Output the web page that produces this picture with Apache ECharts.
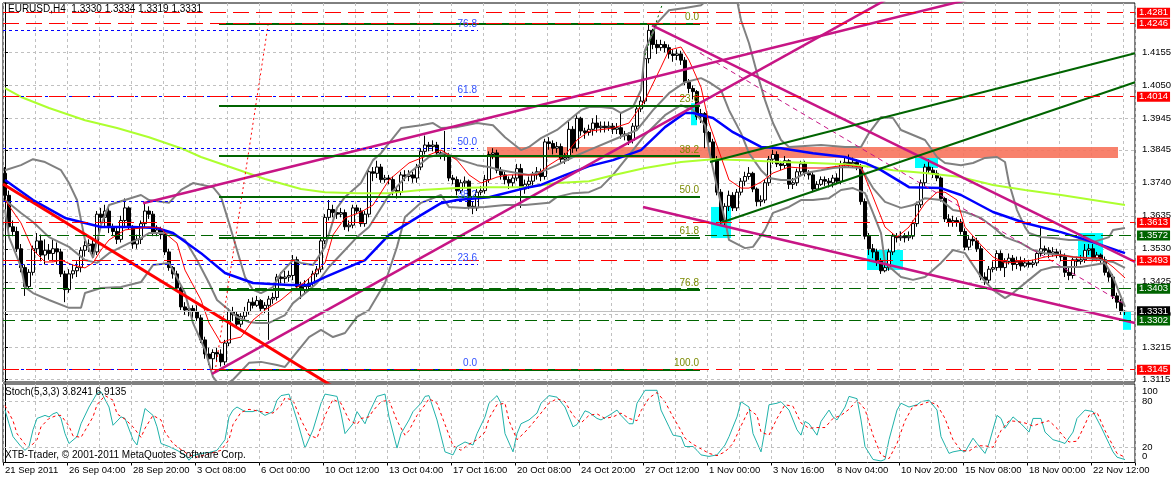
<!DOCTYPE html>
<html>
<head>
<meta charset="utf-8">
<title>EURUSD,H4</title>
<script src="https://cdn.jsdelivr.net/npm/echarts@6/dist/echarts.min.js"></script>
<style>
html, body { margin: 0; padding: 0; background: #fff; }
#main { width: 1173px; height: 480px; }
</style>
</head>
<body>
<div id="main"></div>
<script>
// x labels every 16 bars (H4)
var timeLabels = ['21 Sep 2011', '26 Sep 04:00', '28 Sep 20:00', '3 Oct 08:00', '6 Oct 00:00', '10 Oct 12:00',
    '13 Oct 04:00', '17 Oct 16:00', '20 Oct 08:00', '24 Oct 20:00', '27 Oct 12:00', '1 Nov 00:00',
    '3 Nov 16:00', '8 Nov 04:00', '10 Nov 20:00', '15 Nov 08:00', '18 Nov 00:00', '22 Nov 12:00'];

var priceTicks = [1.4155, 1.4050, 1.3945, 1.3845, 1.3740, 1.3635, 1.3530, 1.3425, 1.3320, 1.3215, 1.3115];
var stochTicks = [0, 20, 80, 100];

// candles: [open, close, low, high]
var ohlc = [
[1.3770,1.3700,1.3680,1.3790],[1.3700,1.3600,1.3585,1.3715],[1.3600,1.3585,1.3570,1.3620],[1.3585,1.3530,1.3520,1.3600],
[1.3530,1.3470,1.3455,1.3545],[1.3470,1.3410,1.3380,1.3480],[1.3410,1.3455,1.3400,1.3465],[1.3455,1.3530,1.3445,1.3540],
[1.3530,1.3555,1.3515,1.3580],[1.3555,1.3510,1.3490,1.3575],[1.3510,1.3525,1.3480,1.3560],[1.3525,1.3515,1.3495,1.3545],
[1.3515,1.3530,1.3490,1.3560],[1.3530,1.3520,1.3480,1.3550],[1.3520,1.3450,1.3440,1.3530],[1.3450,1.3400,1.3360,1.3460],
[1.3400,1.3450,1.3390,1.3465],[1.3450,1.3460,1.3435,1.3480],[1.3460,1.3470,1.3440,1.3490],[1.3470,1.3525,1.3455,1.3535],
[1.3525,1.3540,1.3505,1.3555],[1.3540,1.3545,1.3520,1.3560],[1.3545,1.3520,1.3500,1.3560],[1.3520,1.3640,1.3510,1.3650],
[1.3640,1.3630,1.3610,1.3660],[1.3630,1.3650,1.3600,1.3670],[1.3650,1.3600,1.3580,1.3660],[1.3600,1.3585,1.3570,1.3610],
[1.3585,1.3560,1.3545,1.3600],[1.3560,1.3620,1.3550,1.3635],[1.3620,1.3660,1.3600,1.3690],[1.3660,1.3600,1.3590,1.3665],
[1.3600,1.3545,1.3530,1.3605],[1.3545,1.3560,1.3530,1.3575],[1.3560,1.3610,1.3545,1.3620],[1.3610,1.3650,1.3600,1.3675],
[1.3650,1.3640,1.3625,1.3665],[1.3640,1.3580,1.3570,1.3650],[1.3580,1.3590,1.3570,1.3605],[1.3590,1.3575,1.3560,1.3600],
[1.3575,1.3520,1.3510,1.3585],[1.3520,1.3470,1.3460,1.3530],[1.3470,1.3450,1.3435,1.3475],[1.3450,1.3405,1.3395,1.3460],
[1.3405,1.3345,1.3335,1.3410],[1.3345,1.3335,1.3320,1.3360],[1.3335,1.3340,1.3315,1.3355],[1.3340,1.3330,1.3310,1.3350],
[1.3330,1.3310,1.3300,1.3350],[1.3310,1.3240,1.3230,1.3320],[1.3240,1.3195,1.3180,1.3250],[1.3195,1.3180,1.3160,1.3215],
[1.3180,1.3200,1.3145,1.3210],[1.3200,1.3195,1.3170,1.3215],[1.3195,1.3170,1.3155,1.3210],[1.3170,1.3230,1.3160,1.3240],
[1.3230,1.3330,1.3220,1.3340],[1.3330,1.3320,1.3300,1.3345],[1.3320,1.3290,1.3280,1.3330],[1.3290,1.3315,1.3280,1.3325],
[1.3315,1.3330,1.3305,1.3345],[1.3330,1.3360,1.3320,1.3370],[1.3360,1.3350,1.3340,1.3375],[1.3350,1.3365,1.3345,1.3380],
[1.3365,1.3340,1.3330,1.3370],[1.3340,1.3350,1.3325,1.3360],[1.3350,1.3370,1.3240,1.3380],[1.3370,1.3375,1.3355,1.3390],
[1.3375,1.3440,1.3365,1.3450],[1.3440,1.3435,1.3420,1.3455],[1.3435,1.3440,1.3420,1.3460],[1.3440,1.3445,1.3425,1.3460],
[1.3445,1.3495,1.3430,1.3510],[1.3495,1.3410,1.3400,1.3505],[1.3410,1.3400,1.3370,1.3425],[1.3400,1.3410,1.3385,1.3430],
[1.3410,1.3420,1.3395,1.3435],[1.3420,1.3450,1.3410,1.3460],[1.3450,1.3465,1.3440,1.3475],[1.3465,1.3555,1.3455,1.3565],
[1.3555,1.3630,1.3545,1.3640],[1.3630,1.3655,1.3620,1.3685],[1.3655,1.3645,1.3630,1.3670],[1.3645,1.3640,1.3625,1.3660],
[1.3640,1.3645,1.3630,1.3660],[1.3645,1.3600,1.3590,1.3655],[1.3600,1.3605,1.3585,1.3620],[1.3605,1.3660,1.3595,1.3670],
[1.3660,1.3650,1.3640,1.3670],[1.3650,1.3610,1.3600,1.3660],[1.3610,1.3640,1.3600,1.3650],[1.3640,1.3775,1.3630,1.3785],
[1.3775,1.3770,1.3745,1.3790],[1.3770,1.3790,1.3755,1.3810],[1.3790,1.3750,1.3740,1.3800],[1.3750,1.3755,1.3740,1.3765],
[1.3755,1.3750,1.3735,1.3765],[1.3750,1.3715,1.3700,1.3760],[1.3715,1.3710,1.3690,1.3725],[1.3710,1.3765,1.3700,1.3775],
[1.3765,1.3760,1.3745,1.3780],[1.3760,1.3765,1.3745,1.3780],[1.3765,1.3755,1.3740,1.3775],[1.3755,1.3790,1.3740,1.3800],
[1.3790,1.3840,1.3780,1.3850],[1.3840,1.3860,1.3830,1.3890],[1.3860,1.3855,1.3840,1.3870],[1.3855,1.3860,1.3840,1.3875],
[1.3860,1.3835,1.3825,1.3870],[1.3835,1.3830,1.3815,1.3840],[1.3830,1.3825,1.3810,1.3905],[1.3825,1.3755,1.3745,1.3835],
[1.3755,1.3750,1.3735,1.3765],[1.3750,1.3715,1.3700,1.3760],[1.3715,1.3740,1.3705,1.3750],[1.3740,1.3745,1.3725,1.3760],
[1.3745,1.3665,1.3655,1.3750],[1.3665,1.3660,1.3640,1.3680],[1.3660,1.3710,1.3650,1.3720],[1.3710,1.3715,1.3700,1.3730],
[1.3715,1.3750,1.3705,1.3765],[1.3750,1.3830,1.3740,1.3840],[1.3830,1.3835,1.3815,1.3850],[1.3835,1.3780,1.3770,1.3845],
[1.3780,1.3765,1.3750,1.3790],[1.3765,1.3750,1.3735,1.3775],[1.3750,1.3740,1.3720,1.3760],[1.3740,1.3755,1.3725,1.3765],
[1.3755,1.3785,1.3745,1.3800],[1.3785,1.3720,1.3660,1.3800],[1.3720,1.3735,1.3705,1.3750],[1.3735,1.3745,1.3720,1.3760],
[1.3745,1.3765,1.3730,1.3775],[1.3765,1.3775,1.3750,1.3790],[1.3775,1.3760,1.3745,1.3785],[1.3760,1.3870,1.3750,1.3880],
[1.3870,1.3865,1.3845,1.3885],[1.3865,1.3850,1.3830,1.3875],[1.3850,1.3855,1.3835,1.3870],[1.3855,1.3815,1.3800,1.3865],
[1.3815,1.3820,1.3800,1.3835],[1.3820,1.3910,1.3810,1.3935],[1.3910,1.3850,1.3835,1.3920],[1.3850,1.3945,1.3840,1.3955],
[1.3945,1.3905,1.3890,1.3950],[1.3905,1.3900,1.3880,1.3915],[1.3900,1.3910,1.3890,1.3925],[1.3910,1.3930,1.3890,1.3945],
[1.3930,1.3915,1.3900,1.3955],[1.3915,1.3920,1.3900,1.3935],[1.3920,1.3915,1.3900,1.3935],[1.3915,1.3920,1.3905,1.3935],
[1.3920,1.3910,1.3895,1.3930],[1.3910,1.3915,1.3895,1.3930],[1.3915,1.3895,1.3880,1.3965],[1.3895,1.3890,1.3875,1.3905],
[1.3890,1.3875,1.3860,1.3900],[1.3875,1.3920,1.3865,1.3930],[1.3920,1.3975,1.3910,1.3985],[1.3975,1.4000,1.3965,1.4015],
[1.4000,1.4135,1.3990,1.4145],[1.4135,1.4225,1.4120,1.4246],[1.4225,1.4180,1.4165,1.4230],[1.4180,1.4170,1.4150,1.4195],
[1.4170,1.4180,1.4160,1.4195],[1.4180,1.4170,1.4155,1.4190],[1.4170,1.4150,1.4135,1.4180],[1.4150,1.4145,1.4125,1.4165],
[1.4145,1.4150,1.4130,1.4165],[1.4150,1.4130,1.4115,1.4160],[1.4130,1.4060,1.4050,1.4140],[1.4060,1.4040,1.4025,1.4070],
[1.4040,1.4030,1.4005,1.4050],[1.4030,1.3950,1.3940,1.4035],[1.3950,1.3960,1.3930,1.3975],[1.3960,1.3900,1.3850,1.3965],
[1.3900,1.3870,1.3855,1.3905],[1.3870,1.3815,1.3805,1.3880],[1.3815,1.3710,1.3700,1.3825],[1.3710,1.3620,1.3610,1.3720],
[1.3620,1.3665,1.3600,1.3675],[1.3665,1.3700,1.3650,1.3715],[1.3700,1.3660,1.3650,1.3710],[1.3660,1.3710,1.3650,1.3720],
[1.3710,1.3745,1.3700,1.3755],[1.3745,1.3760,1.3730,1.3775],[1.3760,1.3770,1.3750,1.3790],[1.3770,1.3720,1.3710,1.3775],
[1.3720,1.3680,1.3665,1.3725],[1.3680,1.3685,1.3665,1.3700],[1.3685,1.3740,1.3675,1.3750],[1.3740,1.3815,1.3730,1.3825],
[1.3815,1.3830,1.3800,1.3845],[1.3830,1.3800,1.3790,1.3840],[1.3800,1.3795,1.3780,1.3810],[1.3795,1.3810,1.3785,1.3825],
[1.3810,1.3735,1.3720,1.3815],[1.3735,1.3740,1.3720,1.3755],[1.3740,1.3775,1.3730,1.3785],[1.3775,1.3800,1.3765,1.3810],
[1.3800,1.3770,1.3760,1.3810],[1.3770,1.3765,1.3750,1.3780],[1.3765,1.3720,1.3710,1.3775],[1.3720,1.3735,1.3715,1.3745],
[1.3735,1.3750,1.3730,1.3760],[1.3750,1.3745,1.3730,1.3760],[1.3745,1.3740,1.3725,1.3755],[1.3740,1.3755,1.3725,1.3765],
[1.3755,1.3745,1.3735,1.3770],[1.3745,1.3800,1.3735,1.3810],[1.3800,1.3805,1.3790,1.3825],[1.3805,1.3800,1.3790,1.3830],
[1.3800,1.3805,1.3790,1.3820],[1.3805,1.3795,1.3780,1.3815],[1.3795,1.3680,1.3670,1.3800],[1.3680,1.3570,1.3560,1.3690],
[1.3570,1.3530,1.3510,1.3580],[1.3530,1.3520,1.3500,1.3545],[1.3520,1.3490,1.3475,1.3530],[1.3490,1.3460,1.3450,1.3500],
[1.3460,1.3470,1.3455,1.3490],[1.3470,1.3520,1.3460,1.3530],[1.3520,1.3570,1.3510,1.3580],[1.3570,1.3565,1.3550,1.3580],
[1.3565,1.3570,1.3555,1.3585],[1.3570,1.3565,1.3550,1.3580],[1.3565,1.3570,1.3555,1.3585],[1.3570,1.3610,1.3560,1.3620],
[1.3610,1.3670,1.3600,1.3680],[1.3670,1.3740,1.3660,1.3750],[1.3740,1.3790,1.3730,1.3800],[1.3790,1.3780,1.3770,1.3815],
[1.3780,1.3770,1.3755,1.3790],[1.3770,1.3755,1.3745,1.3780],[1.3755,1.3690,1.3680,1.3760],[1.3690,1.3625,1.3615,1.3695],
[1.3625,1.3615,1.3600,1.3640],[1.3615,1.3620,1.3600,1.3635],[1.3620,1.3615,1.3600,1.3630],[1.3615,1.3585,1.3575,1.3625],
[1.3585,1.3535,1.3525,1.3595],[1.3535,1.3560,1.3525,1.3570],[1.3560,1.3555,1.3540,1.3570],[1.3555,1.3530,1.3520,1.3565],
[1.3530,1.3440,1.3430,1.3540],[1.3440,1.3430,1.3415,1.3455],[1.3430,1.3465,1.3420,1.3475],[1.3465,1.3470,1.3455,1.3490],
[1.3470,1.3515,1.3460,1.3525],[1.3515,1.3470,1.3460,1.3525],[1.3470,1.3490,1.3440,1.3500],[1.3490,1.3500,1.3480,1.3515],
[1.3500,1.3480,1.3460,1.3510],[1.3480,1.3490,1.3465,1.3505],[1.3490,1.3475,1.3460,1.3505],[1.3475,1.3485,1.3470,1.3500],
[1.3485,1.3480,1.3470,1.3495],[1.3480,1.3485,1.3470,1.3495],[1.3485,1.3515,1.3475,1.3525],[1.3515,1.3530,1.3505,1.3600],
[1.3530,1.3525,1.3510,1.3540],[1.3525,1.3515,1.3500,1.3535],[1.3515,1.3520,1.3505,1.3535],[1.3520,1.3510,1.3500,1.3530],
[1.3510,1.3505,1.3490,1.3525],[1.3505,1.3455,1.3440,1.3515],[1.3455,1.3445,1.3430,1.3470],[1.3445,1.3495,1.3435,1.3505],
[1.3495,1.3490,1.3475,1.3505],[1.3490,1.3495,1.3480,1.3510],[1.3495,1.3525,1.3485,1.3545],[1.3525,1.3530,1.3510,1.3545],
[1.3530,1.3500,1.3490,1.3545],[1.3500,1.3510,1.3490,1.3520],[1.3510,1.3495,1.3485,1.3515],[1.3495,1.3455,1.3445,1.3505],
[1.3455,1.3440,1.3425,1.3465],[1.3440,1.3380,1.3370,1.3450],[1.3380,1.3360,1.3340,1.3390],[1.3360,1.3330,1.3320,1.3370],
[1.3330,1.3331,1.3319,1.3334]
];

// indicator lines: [bar, value]
var maFast = [[0,1.3685],[4,1.3612],[7,1.3526],[10,1.3488],[12,1.3488],[14,1.3494],[17,1.3478],[20,1.3469],[22,1.3485],
[24,1.3526],[26,1.3558],[30,1.3590],[34,1.3596],[36,1.3599],[39,1.3596],[40,1.3580],[43,1.3548],[45,1.3462],[49,1.3367],
[51,1.3294],[54,1.3230],[56,1.3240],[59,1.3249],[62,1.3303],[65,1.3335],[69,1.3367],[72,1.3399],[75,1.3424],[80,1.3485],
[82,1.3574],[85,1.3628],[89,1.3647],[92,1.3669],[96,1.3749],[101,1.3803],[109,1.3844],[113,1.3812],[116,1.3765],
[119,1.3739],[123,1.3758],[126,1.3765],[130,1.3765],[133,1.3765],[136,1.3796],[140,1.3828],[143,1.3876],[146,1.3904],
[152,1.3914],[156,1.3930],[160,1.4003],[164,1.4108],[166,1.4162],[169,1.4172],[171,1.4130],[174,1.4044],[176,1.3930],
[179,1.3822],[181,1.3749],[184,1.3723],[186,1.3723],[189,1.3742],[192,1.3771],[196,1.3790],[199,1.3787],[202,1.3787],
[205,1.3787],[210,1.3796],[214,1.3790],[217,1.3695],[220,1.3599],[223,1.3567],[226,1.3599],[230,1.3675],[233,1.3710],
[235,1.3710],[238,1.3685],[240,1.3599],[244,1.3542],[247,1.3504],[250,1.3485],[254,1.3488],[257,1.3494],[260,1.3504],
[264,1.3510],[267,1.3504],[270,1.3501],[274,1.3501],[277,1.3472],[280,1.3437]];

var maMid = [[0,1.3749],[7,1.3685],[15,1.3628],[24,1.3599],[32,1.3599],[38,1.3596],[42,1.3580],[49,1.3516],[55,1.3453],
[62,1.3421],[71,1.3415],[76,1.3415],[80,1.3440],[90,1.3494],[96,1.3574],[104,1.3637],[109,1.3675],[113,1.3685],
[121,1.3694],[130,1.3723],[134,1.3733],[140,1.3764],[146,1.3793],[152,1.3812],[159,1.3844],[165,1.3917],[170,1.3962],
[172,1.3962],[177,1.3946],[182,1.3901],[189,1.3854],[194,1.3850],[202,1.3834],[210,1.3822],[215,1.3803],[219,1.3780],
[226,1.3726],[234,1.3723],[239,1.3701],[247,1.3647],[255,1.3612],[264,1.3583],[272,1.3551],[280,1.3516]];

var ma200 = [[0,1.4041],[4,1.4013],[11,1.3978],[20,1.3939],[28,1.3914],[36,1.3885],[44,1.3850],[49,1.3822],[57,1.3787],
[65,1.3752],[74,1.3720],[80,1.3710],[88,1.3707],[96,1.3707],[104,1.3717],[113,1.3723],[121,1.3726],[130,1.3726],
[138,1.3739],[146,1.3745],[152,1.3764],[160,1.3787],[169,1.3806],[177,1.3815],[185,1.3812],[194,1.3806],[202,1.3803],
[210,1.3799],[217,1.3790],[222,1.3780],[230,1.3771],[239,1.3758],[247,1.3733],[255,1.3717],[264,1.3701],[272,1.3685],
[280,1.3669]];

var bbUpper = [[0,1.3780],[4,1.3796],[7,1.3815],[10,1.3806],[14,1.3780],[16,1.3739],[18,1.3685],[19,1.3621],[20,1.3558],
[22,1.3501],[24,1.3605],[26,1.3669],[30,1.3685],[34,1.3701],[36,1.3685],[41,1.3676],[44,1.3717],[47,1.3739],[52,1.3726],
[54,1.3695],[56,1.3612],[58,1.3526],[60,1.3440],[62,1.3399],[64,1.3389],[67,1.3408],[69,1.3453],[72,1.3494],[74,1.3485],
[77,1.3478],[80,1.3536],[83,1.3660],[85,1.3695],[89,1.3739],[92,1.3812],[94,1.3834],[99,1.3914],[104,1.3923],
[107,1.3930],[109,1.3914],[113,1.3917],[118,1.3930],[122,1.3923],[125,1.3885],[129,1.3844],[131,1.3854],[134,1.3882],
[138,1.3908],[141,1.3939],[144,1.3971],[146,1.3981],[149,1.3981],[152,1.3977],[154,1.3962],[157,1.3981],[159,1.4035],
[160,1.4162],[163,1.4248],[166,1.4289],[170,1.4296],[174,1.4305],[177,1.4337],[181,1.4346],[183,1.4321],[184,1.4257],
[186,1.4184],[188,1.4089],[190,1.4003],[192,1.3930],[194,1.3876],[196,1.3854],[204,1.3860],[210,1.3854],[214,1.3854],
[216,1.3898],[219,1.3949],[222,1.3946],[224,1.3908],[230,1.3876],[233,1.3822],[235,1.3803],[239,1.3796],[242,1.3803],
[245,1.3819],[248,1.3822],[250,1.3806],[251,1.3739],[253,1.3653],[255,1.3599],[256,1.3580],[259,1.3567],[262,1.3564],
[266,1.3558],[269,1.3558],[272,1.3551],[276,1.3567],[277,1.3590],[280,1.3596]];

var bbMiddle = [[0,1.3685],[4,1.3644],[7,1.3615],[11,1.3567],[16,1.3536],[20,1.3494],[23,1.3485],[26,1.3516],[31,1.3548],
[34,1.3564],[36,1.3580],[41,1.3580],[45,1.3558],[48,1.3494],[51,1.3421],[53,1.3367],[56,1.3335],[58,1.3313],[61,1.3297],
[63,1.3294],[66,1.3294],[70,1.3319],[72,1.3357],[76,1.3399],[78,1.3421],[81,1.3472],[85,1.3526],[88,1.3567],[91,1.3599],
[96,1.3700],[101,1.3770],[106,1.3822],[110,1.3834],[114,1.3812],[118,1.3796],[121,1.3790],[124,1.3780],[128,1.3771],
[131,1.3765],[134,1.3774],[138,1.3796],[142,1.3822],[146,1.3844],[152,1.3876],[158,1.3908],[162,1.3971],[166,1.4025],
[170,1.4060],[174,1.4073],[176,1.4060],[179,1.4035],[181,1.3971],[184,1.3898],[186,1.3834],[189,1.3780],[191,1.3755],
[194,1.3749],[197,1.3749],[200,1.3771],[204,1.3780],[207,1.3787],[210,1.3790],[214,1.3787],[217,1.3723],[220,1.3679],
[224,1.3660],[227,1.3669],[230,1.3691],[234,1.3685],[237,1.3653],[240,1.3647],[244,1.3628],[247,1.3599],[250,1.3567],
[254,1.3548],[257,1.3526],[260,1.3516],[264,1.3510],[267,1.3504],[270,1.3501],[274,1.3494],[277,1.3488],[280,1.3469]];

var bbLower = [[0,1.3655],[1,1.3567],[4,1.3472],[5,1.3408],[7,1.3389],[11,1.3367],[16,1.3342],[19,1.3342],[20,1.3389],
[24,1.3405],[29,1.3408],[34,1.3424],[37,1.3478],[41,1.3485],[45,1.3389],[47,1.3294],[50,1.3208],[52,1.3122],[54,1.3090],
[57,1.3113],[61,1.3167],[64,1.3170],[68,1.3160],[70,1.3154],[72,1.3186],[76,1.3249],[79,1.3272],[82,1.3249],[85,1.3262],
[88,1.3313],[91,1.3335],[95,1.3421],[98,1.3536],[100,1.3631],[104,1.3676],[109,1.3701],[111,1.3663],[115,1.3660],
[120,1.3663],[125,1.3669],[130,1.3669],[136,1.3676],[138,1.3695],[142,1.3707],[146,1.3710],[149,1.3726],[152,1.3765],
[156,1.3828],[160,1.3892],[165,1.3955],[169,1.3987],[172,1.3971],[175,1.3923],[176,1.3844],[178,1.3726],[180,1.3621],
[181,1.3558],[185,1.3532],[187,1.3536],[190,1.3590],[192,1.3644],[196,1.3663],[199,1.3685],[202,1.3685],[206,1.3691],
[209,1.3717],[212,1.3723],[215,1.3707],[217,1.3644],[219,1.3580],[220,1.3485],[224,1.3440],[227,1.3431],[230,1.3440],
[234,1.3485],[237,1.3526],[240,1.3516],[244,1.3440],[247,1.3399],[250,1.3373],[252,1.3389],[256,1.3431],[259,1.3462],
[262,1.3472],[266,1.3472],[269,1.3472],[272,1.3478],[275,1.3485],[277,1.3440],[280,1.3345]];

var stochK = [[0,69],[1,51],[2,34],[4,21],[5,16],[6,21],[7,43],[8,58],[10,62],[11,60],[12,64],[13,66],[14,58],[15,38],
[16,25],[18,34],[19,51],[21,73],[22,82],[23,91],[24,93],[26,73],[27,49],[29,60],[30,58],[32,30],[33,23],[34,47],[35,71],
[37,62],[38,47],[39,25],[41,21],[43,16],[45,10],[46,3],[47,9],[49,12],[51,13],[53,16],[55,30],[56,60],[57,69],[58,73],
[60,67],[62,67],[63,69],[65,62],[67,67],[68,82],[69,88],[71,90],[73,56],[75,19],[77,43],[79,78],[80,90],[83,87],[84,65],
[85,38],[87,51],[88,67],[90,51],[91,65],[92,76],[93,87],[95,90],[96,60],[98,19],[99,38],[101,56],[102,67],[104,78],
[105,87],[106,88],[108,56],[110,14],[112,10],[113,21],[115,27],[117,23],[118,38],[120,60],[121,78],[123,88],[124,78],
[125,38],[127,14],[128,38],[129,51],[131,56],[133,65],[134,78],[136,88],[138,86],[140,73],[142,47],[143,50],[145,68],
[146,66],[148,58],[149,56],[151,62],[153,69],[154,62],[156,51],[157,51],[158,78],[160,95],[163,95],[164,69],[166,47],
[167,36],[169,34],[170,21],[172,21],[173,16],[174,10],[176,8],[178,10],[180,23],[181,34],[183,60],[184,80],[186,73],
[187,38],[189,14],[190,43],[191,76],[193,78],[194,80],[196,69],[198,43],[199,36],[200,54],[201,51],[203,36],[204,54],
[206,69],[207,60],[208,56],[210,73],[211,87],[213,84],[214,56],[215,21],[217,4],[219,2],[220,4],[221,30],[223,69],
[224,78],[226,73],[228,76],[229,80],[231,82],[233,69],[234,34],[236,12],[237,14],[239,16],[240,14],[242,32],[243,25],
[245,12],[246,25],[248,62],[249,58],[250,45],[252,60],[254,51],[256,40],[257,58],[259,58],[260,40],[262,30],[264,27],
[265,25],[267,40],[268,58],[270,69],[272,67],[274,47],[276,25],[277,14],[278,7],[280,3.8241]];

var stochD = [[0,75],[2,55],[3,38],[5,24],[6,19],[8,30],[9,47],[11,58],[13,62],[14,62],[16,48],[17,35],[19,33],[20,42],
[22,60],[23,76],[25,88],[27,82],[28,64],[30,57],[32,47],[34,33],[35,45],[37,62],[39,56],[40,40],[42,25],[44,17],[46,10],
[48,7],[50,10],[52,13],[54,16],[56,30],[57,50],[59,66],[61,70],[63,68],[65,66],[67,65],[69,75],[70,85],[72,82],[74,56],
[76,36],[78,32],[80,62],[82,83],[84,78],[86,56],[88,50],[89,58],[91,60],[92,68],[94,80],[96,82],[98,55],[100,36],
[101,42],[103,62],[105,76],[106,84],[108,78],[110,50],[112,22],[114,16],[116,24],[118,30],[120,40],[121,58],[123,76],
[125,78],[126,55],[128,30],[130,40],[132,52],[134,65],[136,78],[138,84],[140,80],[142,62],[144,52],[146,62],[148,64],
[150,58],[152,60],[154,65],[156,58],[158,55],[159,68],[161,85],[163,92],[165,80],[167,60],[169,42],[170,32],[172,24],
[174,18],[176,12],[178,9],[180,14],[182,25],[184,48],[186,70],[188,62],[189,40],[191,36],[193,58],[195,76],[197,74],
[199,52],[201,45],[203,46],[205,46],[207,58],[209,62],[211,70],[213,82],[215,70],[217,36],[219,10],[221,5],[223,25],
[225,55],[227,74],[229,76],[231,80],[233,76],[235,58],[237,30],[239,16],[241,15],[243,22],[245,22],[247,20],[249,42],
[251,55],[253,54],[255,52],[257,48],[259,52],[261,55],[263,45],[265,32],[266,27],[268,28],[270,50],[271,62],[273,66],
[275,42],[277,22],[278,12],[280,6.9135]];

// horizontal levels with price tags: [price, kind]
var levels = [[1.4281,'res'],[1.4246,'res'],[1.4014,'res'],[1.3613,'res'],[1.3572,'sup'],[1.3493,'res'],
    [1.3403,'sup'],[1.3331,'bid'],[1.3302,'sup'],[1.3145,'res']];

// fibo retracements: [label, price]
var fiboGreen = [['0.0',1.4246],['23.6',1.3986],['38.2',1.3825],['50.0',1.3696],['61.8',1.3566],['76.8',1.3400],['100.0',1.3145]];
var fiboGreenSpan = [53.5, 173.75];
var fiboBlue = [['76.8',1.4226],['61.8',1.4014],['50.0',1.3849],['38.2',1.3682],['23.6',1.3481],['0.0',1.3148]];
var fiboBlueSpan = [-0.5, 118.25];

// drawn objects: [[bar, price], [bar, price]]
var linesMagenta = [[[34.5,1.3675],[250,1.4352]], [[51.75,1.3132],[225,1.4356]],
    [[161.75,1.4241],[282.5,1.3488]], [[159.5,1.3663],[282.5,1.3294]]];
var linesMagentaThin = [[[168,1.4203],[191.25,1.4057]], [[173.75,1.4153],[279.5,1.3357]]];
var linesGreen = [[[176.25,1.3806],[282.5,1.4152]], [[178.75,1.3612],[282.5,1.4060]]];
var lineRed = [[-0.5,1.3736],[85,1.3068]];
var lineRedDotted = [[52.5,1.3138],[65.75,1.4241]];
var lineGreenDotted = [[160,1.4146],[164.25,1.4305]];

// rectangles: [bar1, price1, bar2, price2]
var zoneRect = [120.5, 1.3854, 278.25, 1.3819];
var boxes = [[171.5,1.3993,173,1.3923], [176.5,1.3663,181.5,1.3564], [215.5,1.3526,224.5,1.3462],
    [227.5,1.3819,233.25,1.3787], [268.25,1.3580,274.5,1.3504], [279.5,1.3332,281.5,1.3272]];

var FONT = 'Liberation Sans, Arial, sans-serif';
var NBARS = 283;
var cats = [];
for (var i = 0; i < NBARS; i++) cats.push(String(i));

var kindStyle = {
    res: { line: '#ff0000', type: [16, 7], tag: '#ff0000' },
    sup: { line: '#006400', type: [12, 6], tag: '#006400' },
    bid: { line: '#c0c0c0', type: 'solid', tag: '#000000' }
};

var levelLines = levels.map(function (lv) {
    var st = kindStyle[lv[1]];
    return {
        yAxis: lv[0],
        lineStyle: { color: st.line, type: st.type, width: 1 },
        label: {
            show: true, position: 'end', distance: 2, formatter: lv[0].toFixed(4),
            backgroundColor: st.tag, color: '#fff', padding: [0, 2, 0, 2], lineHeight: 10,
            fontSize: 9.5, fontFamily: FONT
        }
    };
});

function fiboLines(list, span, color, width, type, textColor) {
    return list.map(function (lv) {
        return [
            {
                coord: [span[0], lv[1]],
                lineStyle: { color: color, width: width, type: type },
                label: { show: true, position: 'insideEndTop', distance: 1, formatter: lv[0],
                    color: textColor, fontSize: 10, fontFamily: FONT }
            },
            { coord: [span[1], lv[1]] }
        ];
    });
}

var areaData = [[
    { coord: [zoneRect[0], zoneRect[1]], itemStyle: { color: '#f7735c', opacity: 0.9 } },
    { coord: [zoneRect[2], zoneRect[3]] }
]].concat(boxes.map(function (b) {
    return [{ coord: [b[0], b[1]], itemStyle: { color: '#00ffff', opacity: 1 } }, { coord: [b[2], b[3]] }];
}));

function lineSeries(data, color, width, z, type) {
    return {
        type: 'line', xAxisIndex: 1, yAxisIndex: 0, data: data, symbol: 'none', silent: true, z: z,
        lineStyle: { color: color, width: width, type: type || 'solid' }
    };
}

var series = [];
// background objects
series.push({
    type: 'line', xAxisIndex: 1, yAxisIndex: 0, data: [[0, null]], symbol: 'none', silent: true, z: 1,
    markArea: { silent: true, z: 1, data: areaData }
});
series.push({
    name: 'EURUSD', type: 'candlestick', xAxisIndex: 0, yAxisIndex: 0, data: ohlc, barWidth: 3, z: 2,
    itemStyle: { color: '#ffffff', color0: '#000000', borderColor: '#000000', borderColor0: '#000000', borderWidth: 1 }
});
series.push(lineSeries(bbUpper, '#808080', 2, 3));
series.push(lineSeries(bbMiddle, '#808080', 2, 3));
series.push(lineSeries(bbLower, '#808080', 2, 3));
series.push(lineSeries(ma200, '#adff2f', 2, 3));
series.push(lineSeries(maMid, '#0000ff', 2.5, 3));
series.push(lineSeries(maFast, '#ff0000', 1, 3));
linesMagenta.forEach(function (l) { series.push(lineSeries(l, '#c71585', 2.5, 4)); });
linesMagentaThin.forEach(function (l) { series.push(lineSeries(l, '#c71585', 1, 4, [5, 4])); });
linesGreen.forEach(function (l) { series.push(lineSeries(l, '#006400', 2, 4)); });
series.push(lineSeries(lineRed, '#ff0000', 3, 4));
series.push(lineSeries(lineRedDotted, '#ff0000', 1, 4, [2, 3]));
series.push(lineSeries(lineGreenDotted, '#006400', 1, 4, [2, 3]));
// fibo + levels
series.push({
    type: 'line', xAxisIndex: 1, yAxisIndex: 0, data: [[0, null]], symbol: 'none', silent: true, z: 5,
    markLine: {
        silent: true, symbol: ['none', 'none'], animation: false, precision: 4,
        data: fiboLines(fiboGreen, fiboGreenSpan, '#006400', 2, 'solid', '#7a8a00')
            .concat(fiboLines(fiboBlue, fiboBlueSpan, '#0000ff', 1, [3, 3], '#3050ff'))
            .concat(levelLines)
    }
});
// stochastic with 20/80 levels
series.push({
    name: '%K', type: 'line', xAxisIndex: 3, yAxisIndex: 1, data: stochK, symbol: 'none', silent: true,
    lineStyle: { color: '#20b2aa', width: 1 },
    markLine: {
        silent: true, symbol: ['none', 'none'], label: { show: false }, precision: 2,
        lineStyle: { color: '#c0c0c0', type: [3, 3], width: 1 },
        data: [{ yAxis: 20 }, { yAxis: 80 }]
    }
});
series.push({
    name: '%D', type: 'line', xAxisIndex: 3, yAxisIndex: 1, data: stochD, symbol: 'none', silent: true,
    lineStyle: { color: '#ff0000', width: 1, type: [3, 3] }
});

var gridSplit = { show: true, lineStyle: { color: '#c0c0c0', type: [3, 3], width: 1 } };

var option = {
    animation: false,
    backgroundColor: '#ffffff',
    textStyle: { fontFamily: FONT },
    title: [
        { text: 'EURUSD,H4  1.3330 1.3334 1.3319 1.3331', left: 8, top: 4, padding: 0,
          textStyle: { fontSize: 10, fontWeight: 'normal', color: '#000', fontFamily: FONT } },
        { text: 'Stoch(5,3,3) 3.8241 6.9135', left: 5, top: 387, padding: 0,
          textStyle: { fontSize: 10, fontWeight: 'normal', color: '#000', fontFamily: FONT } },
        { text: 'XTB-Trader, \u00a9 2001-2011 MetaQuotes Software Corp.', left: 5, top: 450, padding: 0,
          textStyle: { fontSize: 10, fontWeight: 'normal', color: '#000', fontFamily: FONT } }
    ],
    grid: [
        { left: 3, right: 38, top: 3, height: 379, show: true, borderColor: '#000', borderWidth: 1,
          backgroundColor: 'transparent', outerBoundsMode: 'none' },
        { left: 3, right: 38, top: 384, height: 78.5, show: true, borderColor: '#000', borderWidth: 1,
          backgroundColor: 'transparent', outerBoundsMode: 'none' }
    ],
    xAxis: [
        { type: 'category', gridIndex: 0, data: cats, boundaryGap: true,
          axisLine: { show: false }, axisTick: { show: false }, axisLabel: { show: false },
          splitLine: { show: true, interval: 7, lineStyle: gridSplit.lineStyle } },
        { type: 'value', gridIndex: 0, min: -0.5, max: NBARS - 0.5, show: false },
        { type: 'category', gridIndex: 1, data: cats, boundaryGap: true,
          axisLine: { show: false },
          axisTick: { show: true, interval: 15, length: 3, lineStyle: { color: '#000' } },
          axisLabel: { show: true, interval: 15, align: 'left', margin: 3, color: '#000', fontSize: 9.5,
              fontFamily: FONT,
              formatter: function (v, idx) { return timeLabels[idx / 16] || ''; } },
          splitLine: { show: true, interval: 7, lineStyle: gridSplit.lineStyle } },
        { type: 'value', gridIndex: 1, min: -0.5, max: NBARS - 0.5, show: false }
    ],
    yAxis: [
        { type: 'value', gridIndex: 0, position: 'right', min: 1.3106, max: 1.4312,
          axisLine: { show: true, lineStyle: { color: '#000' } },
          axisTick: { show: true, length: 3, customValues: priceTicks, lineStyle: { color: '#000' } },
          axisLabel: { customValues: priceTicks, margin: 7, color: '#000', fontSize: 9.5, fontFamily: FONT,
              showMinLabel: true, showMaxLabel: true, hideOverlap: false,
              formatter: function (v) { return v.toFixed(4); } },
          splitLine: gridSplit },
        { type: 'value', gridIndex: 1, position: 'right', min: 0, max: 103.3,
          axisLine: { show: true, lineStyle: { color: '#000' } },
          axisTick: { show: false },
          axisLabel: { customValues: stochTicks.slice(1), margin: 7, color: '#000', fontSize: 9.5, fontFamily: FONT,
              showMinLabel: true, showMaxLabel: true, hideOverlap: false,
              formatter: function (v) { return v === 100 ? '{t|100}' : String(v); },
              rich: { t: { padding: [10, 0, 0, 0], fontSize: 9.5, fontFamily: FONT, color: '#000' } } },
          splitLine: { show: false } }
    ],
    series: series
};

var myChart = echarts.init(document.getElementById('main'));
myChart.setOption(option);

// bottom "0" of the stochastic scale, placed through the axis scale (sits just above the zero line)
var zeroY = myChart.convertToPixel({ yAxisIndex: 1 }, stochTicks[0]);
var scaleX = myChart.convertToPixel({ xAxisIndex: 3 }, NBARS - 0.5) + 7;
myChart.setOption({
    graphic: [{
        type: 'text', x: scaleX, y: zeroY - 1, silent: true, z: 10,
        style: { text: String(stochTicks[0]), fill: '#000', font: '9.5px ' + FONT,
            verticalAlign: 'bottom', textVerticalAlign: 'bottom', align: 'left' }
    }]
});
</script>
</body>
</html>
